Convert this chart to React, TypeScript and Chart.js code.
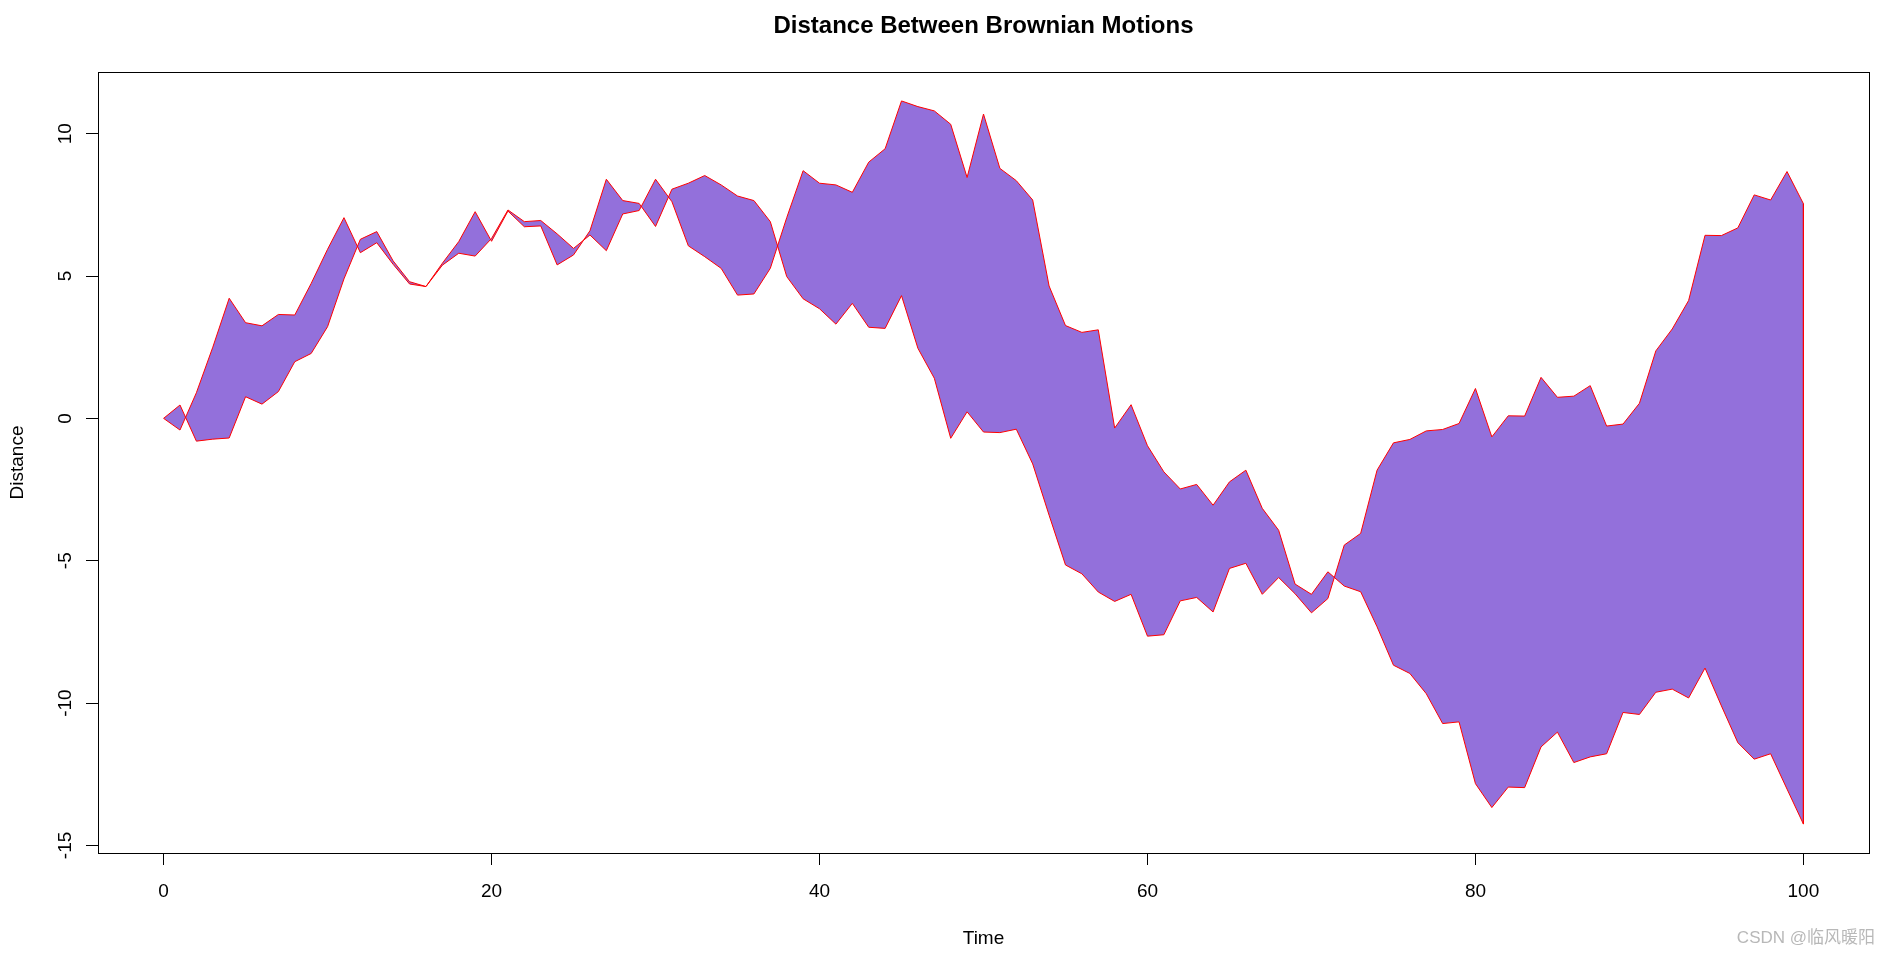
import React, { useEffect, useRef } from "react";
import { Chart, registerables } from "chart.js";

Chart.register(...registerables);

// ---- data ----
const time = [
  0, 1, 2, 3, 4, 5, 6, 7, 8, 9, 10, 11, 12, 13, 14, 15, 16, 17, 18, 19, 20,
  21, 22, 23, 24, 25, 26, 27, 28, 29, 30, 31, 32, 33, 34, 35, 36, 37, 38, 39, 40,
  41, 42, 43, 44, 45, 46, 47, 48, 49, 50, 51, 52, 53, 54, 55, 56, 57, 58, 59, 60,
  61, 62, 63, 64, 65, 66, 67, 68, 69, 70, 71, 72, 73, 74, 75, 76, 77, 78, 79, 80,
  81, 82, 83, 84, 85, 86, 87, 88, 89, 90, 91, 92, 93, 94, 95, 96, 97, 98, 99, 100,
];

const motionA = [
  0, 0.47, -0.8, -0.73, -0.69, 0.76, 0.5, 0.94, 1.99, 2.28, 3.22,
  4.9, 6.29, 6.56, 5.53, 4.8, 4.63, 5.45, 6.21, 7.26, 6.22,
  7.28, 6.73, 6.76, 5.39, 5.74, 6.59, 8.4, 7.65, 7.55, 6.74,
  8.05, 8.26, 8.53, 8.2, 7.81, 7.65, 6.91, 4.98, 4.2, 3.85,
  3.31, 4.04, 3.2, 3.16, 4.31, 2.46, 1.41, -0.7, 0.23, -0.48,
  -0.5, -0.38, -1.6, -3.4, -5.15, -5.46, -6.1, -6.43, -6.18, -7.65,
  -7.6, -6.41, -6.29, -6.8, -5.27, -5.09, -6.18, -5.59, -6.16, -6.83,
  -6.33, -4.45, -4.04, -1.82, -0.86, -0.74, -0.44, -0.39, -0.18, 1.05,
  -0.65, 0.09, 0.08, 1.44, 0.74, 0.78, 1.15, -0.27, -0.2, 0.53,
  2.37, 3.14, 4.14, 6.43, 6.42, 6.69, 7.85, 7.67, 8.67, 7.54,
];

const motionB = [
  0, -0.41, 0.9, 2.5, 4.22, 3.36, 3.25, 3.65, 3.63, 4.74, 5.94,
  7.05, 5.82, 6.17, 5.41, 4.72, 4.63, 5.38, 5.8, 5.7, 6.32,
  7.32, 6.91, 6.95, 6.48, 5.97, 6.44, 5.89, 7.18, 7.3, 8.4,
  7.61, 6.06, 5.68, 5.27, 4.33, 4.37, 5.27, 7.05, 8.7, 8.26,
  8.2, 7.94, 9.0, 9.47, 11.15, 10.95, 10.8, 10.33, 8.46, 10.69,
  8.78, 8.35, 7.67, 4.65, 3.26, 3.02, 3.11, -0.34, 0.48, -0.96,
  -1.88, -2.48, -2.32, -3.05, -2.23, -1.82, -3.16, -3.93, -5.82, -6.18,
  -5.39, -5.89, -6.09, -7.32, -8.67, -8.96, -9.67, -10.72, -10.66, -12.83,
  -13.67, -12.95, -12.97, -11.54, -11.02, -12.09, -11.89, -11.78, -10.33, -10.4,
  -9.62, -9.51, -9.82, -8.77, -10.1, -11.39, -11.97, -11.78, -13.02, -14.25,
];

const xTicks = [0, 20, 40, 60, 80, 100];
const yTicks = [-15, -10, -5, 0, 5, 10];

const titleText = "Distance Between Brownian Motions";
const xTitle = "Time";
const yTitle = "Distance";
const watermark = "CSDN @临风暖阳";

const FONT = '"Liberation Sans", Arial, sans-serif';

export default function App() {
  const ref = useRef<HTMLCanvasElement>(null);

  useEffect(() => {
    const canvas = ref.current;
    if (!canvas) return;

    const xLo = Math.min(...time);
    const xHi = Math.max(...time);
    const xPad = (xHi - xLo) * 0.04;
    const allY = [...motionA, ...motionB];
    const yLo = Math.min(...allY);
    const yHi = Math.max(...allY);
    const yPad = (yHi - yLo) * 0.04;

    const last = time.length - 1;

    const rPlugin = {
      id: "rStyle",
      afterDraw(chart: any) {
        const { ctx, chartArea: a, scales } = chart;
        ctx.save();
        // box
        ctx.strokeStyle = "#000";
        ctx.lineWidth = 1;
        ctx.strokeRect(
          Math.round(a.left) + 0.5,
          Math.round(a.top) + 0.5,
          Math.round(a.right - a.left),
          Math.round(a.bottom - a.top)
        );
        ctx.fillStyle = "#000";
        // title
        ctx.font = `bold 24px ${FONT}`;
        ctx.textAlign = "center";
        ctx.textBaseline = "alphabetic";
        ctx.fillText(titleText, (a.left + a.right) / 2, 33);
        // x tick labels
        ctx.font = `19px ${FONT}`;
        xTicks.forEach((v) => {
          ctx.fillText(String(v), scales.x.getPixelForValue(v), 897);
        });
        // x title
        ctx.fillText(xTitle, (a.left + a.right) / 2, 944);
        // y tick labels (rotated)
        yTicks.forEach((v) => {
          ctx.save();
          ctx.translate(71, scales.y.getPixelForValue(v));
          ctx.rotate(-Math.PI / 2);
          ctx.fillText(String(v), 0, 0);
          ctx.restore();
        });
        // y title
        ctx.save();
        ctx.translate(22.5, (a.top + a.bottom) / 2);
        ctx.rotate(-Math.PI / 2);
        ctx.fillText(yTitle, 0, 0);
        ctx.restore();
        // watermark
        ctx.font = `17px ${FONT}, "Noto Sans CJK SC"`;
        ctx.fillStyle = "#b8b8b8";
        ctx.textAlign = "right";
        ctx.fillText(watermark, 1875, 943);
        ctx.restore();
      },
    };

    const chart = new Chart(canvas, {
      type: "line",
      data: {
        datasets: [
          {
            label: "A",
            data: time.map((t, i) => ({ x: t, y: motionA[i] })),
            borderColor: "#ff0000",
            borderWidth: 1,
            pointRadius: 0,
            tension: 0,
            fill: false,
          },
          {
            label: "B",
            data: time.map((t, i) => ({ x: t, y: motionB[i] })),
            borderColor: "#ff0000",
            backgroundColor: "#9370DB",
            borderWidth: 1,
            pointRadius: 0,
            tension: 0,
            fill: "-1",
          },
          {
            label: "edge",
            data: [
              { x: time[last], y: motionA[last] },
              { x: time[last], y: motionB[last] },
            ],
            borderColor: "#ff0000",
            borderWidth: 1,
            pointRadius: 0,
            fill: false,
            order: -1,
          },
        ],
      },
      options: {
        responsive: false,
        animation: false,
        events: [],
        layout: { padding: { top: 72, right: 20, left: 0, bottom: 0 } },
        plugins: {
          legend: { display: false },
          tooltip: { enabled: false },
          title: { display: false },
        },
        scales: {
          x: {
            type: "linear",
            min: xLo - xPad,
            max: xHi + xPad,
            afterBuildTicks: (s: any) => {
              s.ticks = xTicks.map((v) => ({ value: v }));
            },
            afterFit: (s: any) => {
              s.height = 103;
            },
            ticks: { display: false },
            grid: {
              drawOnChartArea: false,
              drawTicks: true,
              tickLength: 12,
              color: "#000",
              lineWidth: 1,
            },
            border: { display: false },
          },
          y: {
            type: "linear",
            min: yLo - yPad,
            max: yHi + yPad,
            afterBuildTicks: (s: any) => {
              s.ticks = yTicks.map((v) => ({ value: v }));
            },
            afterFit: (s: any) => {
              s.width = 98;
            },
            ticks: { display: false },
            grid: {
              drawOnChartArea: false,
              drawTicks: true,
              tickLength: 12,
              color: "#000",
              lineWidth: 1,
            },
            border: { display: false },
          },
        },
      },
      plugins: [rPlugin],
    });

    return () => chart.destroy();
  }, []);

  return (
    <canvas
      ref={ref}
      width={1889}
      height={956}
      style={{ position: "absolute", left: 0, top: 0, width: 1889, height: 956, display: "block" }}
    />
  );
}
